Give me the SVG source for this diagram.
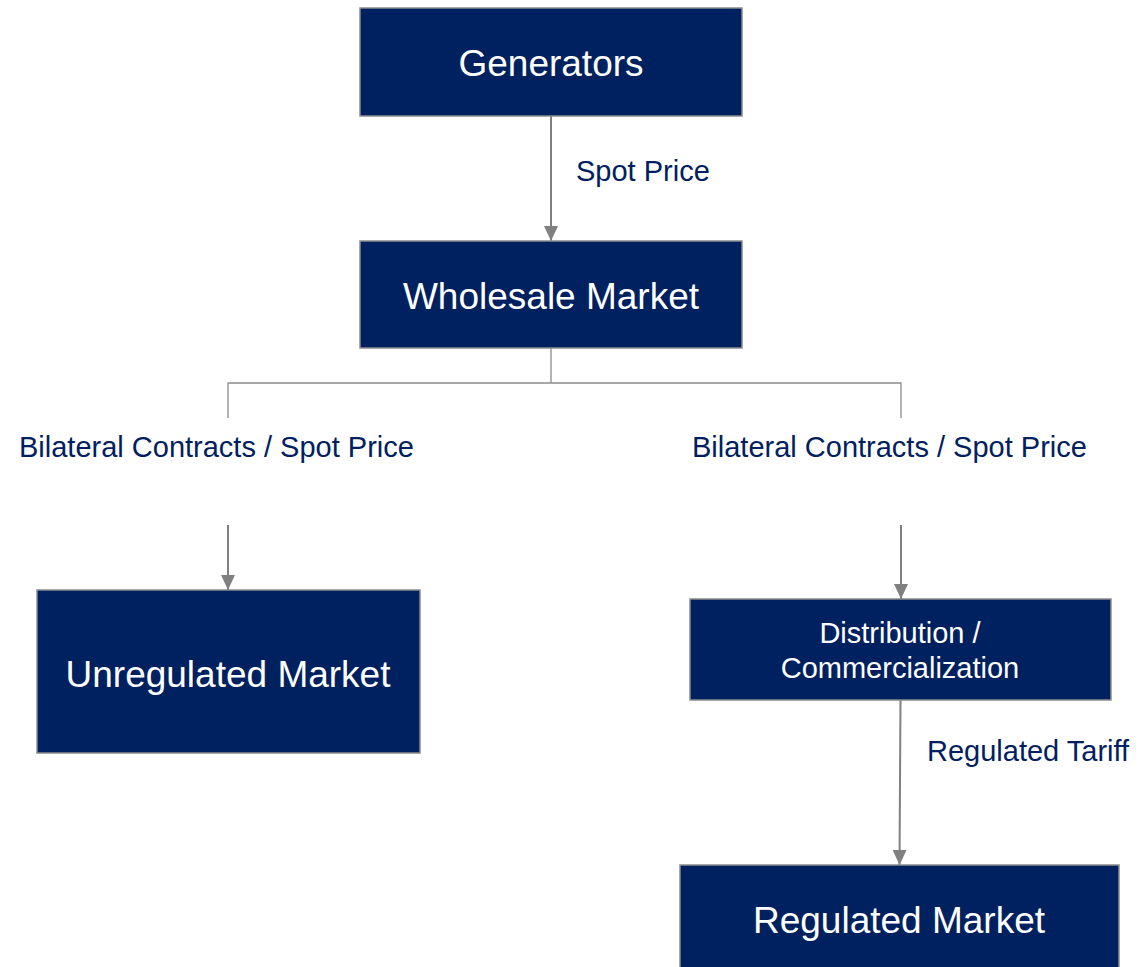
<svg xmlns="http://www.w3.org/2000/svg" width="1140" height="967" viewBox="0 0 1140 967">
<defs>
<style>
.box{fill:#00215F;stroke:#8C8C8C;stroke-width:1.5}
.bt{fill:#FFFFFF;font-family:"Liberation Sans",Arial,sans-serif;text-anchor:middle}
.lbl{fill:#002060;font-family:"Liberation Sans",Arial,sans-serif;font-size:29px}
.arr{stroke:#808080;stroke-width:2;fill:none;marker-end:url(#ahd)}
.ln{stroke:#8C8C8C;stroke-width:1.3;fill:none}
</style>
<marker id="ahd" viewBox="0 0 15 14" refX="15" refY="7" markerWidth="15" markerHeight="14" markerUnits="userSpaceOnUse" orient="auto">
<path d="M0,0 L15,7 L0,14 Z" fill="#808080"/>
</marker>
</defs>
<g id="connectors">
<line class="arr" x1="551" y1="116" x2="551" y2="241"/>
<polyline class="ln" points="551,348 551,383"/>
<polyline class="ln" points="228,418 228,383 901,383 901,418"/>
<line class="arr" x1="228" y1="525" x2="228" y2="590"/>
<line class="arr" x1="901" y1="525" x2="901" y2="599"/>
<line class="arr" x1="900.5" y1="700" x2="899.5" y2="865"/>
</g>
<g id="label-spot"><text class="lbl" x="576" y="181">Spot Price</text></g>
<g id="label-bil-left"><text class="lbl" x="19" y="457">Bilateral Contracts / Spot Price</text></g>
<g id="label-bil-right"><text class="lbl" x="692" y="457">Bilateral Contracts / Spot Price</text></g>
<g id="label-tariff"><text class="lbl" x="927" y="761">Regulated Tariff</text></g>
<g id="generators">
<rect class="box" x="360" y="8" width="382" height="108"/>
<text class="bt" x="551" y="76" font-size="37">Generators</text>
</g>
<g id="wholesale">
<rect class="box" x="360" y="241" width="382" height="107"/>
<text class="bt" x="551" y="309" font-size="37">Wholesale Market</text>
</g>
<g id="unregulated">
<rect class="box" x="37" y="590" width="383" height="163"/>
<text class="bt" x="228" y="687" font-size="37">Unregulated Market</text>
</g>
<g id="distribution">
<rect class="box" x="690" y="599" width="421" height="101"/>
<text class="bt" x="900" y="643" font-size="29">Distribution /</text>
<text class="bt" x="900" y="678" font-size="29">Commercialization</text>
</g>
<g id="regulated">
<rect class="box" x="680" y="865" width="439" height="110"/>
<text class="bt" x="899" y="933" font-size="37">Regulated Market</text>
</g>
</svg>
